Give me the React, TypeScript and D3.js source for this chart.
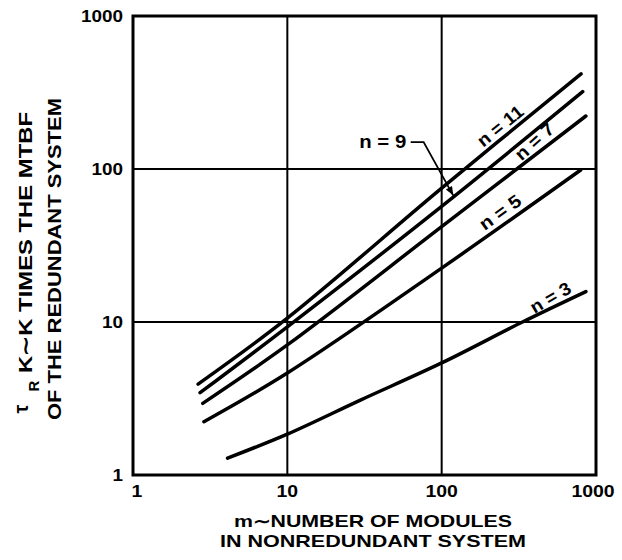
import React from "react";
import * as d3 from "d3";

// ---- data ----
const xTicks = [1, 10, 100, 1000];
const yTicks = [1, 10, 100, 1000];
const xTickLabels = ["1", "10", "100", "1000"];
const yTickLabels = ["1", "10", "100", "1000"];

const mN11 = [2.64, 10, 100, 800];
const vN11 = [3.93, 10.6, 75, 418];
const mN9 = [2.72, 10, 100, 820];
const vN9 = [3.45, 9.3, 57, 320];
const mN7 = [2.83, 10, 100, 860];
const vN7 = [2.94, 7.08, 42, 222];
const mN5 = [2.88, 10, 100, 796];
const vN5 = [2.23, 4.64, 22.5, 98.5];
const mN3 = [4.1, 10, 30, 100, 334, 860];
const vN3 = [1.29, 1.85, 3.1, 5.4, 10, 15.8];

const seriesNames = ["n = 11", "n = 9", "n = 7", "n = 5", "n = 3"];

// label anchor positions in data space (m, value), rotation, length
const labelM = [240, 0, 400, 240, 508];
const labelV = [191, 0, 151, 52, 14.4];
const labelRot = [-39, 0, -42, -36, -30];
const labelLen = [54, 47, 46, 47, 44];

// n = 9 leader annotation (data space)
const n9LabelM = 41.5;
const n9LabelV = 150;
const n9LeaderM = [63, 76.4, 119];
const n9LeaderV = [150, 150, 67];

export default function App() {
  const W = 622;
  const H = 560;
  const x = d3.scaleLog().domain([1, 1000]).range([133, 596]);
  const y = d3.scaleLog().domain([1, 1000]).range([475, 16]);

  const series = [
    [mN11, vN11],
    [mN9, vN9],
    [mN7, vN7],
    [mN5, vN5],
    [mN3, vN3],
  ];

  const line = d3
    .line<[number, number]>()
    .x((d) => x(d[0]))
    .y((d) => y(d[1]))
    .curve(d3.curveCatmullRom.alpha(0.5));

  const font = "'Liberation Sans', Arial, Helvetica, sans-serif";

  const leader = d3
    .line<[number, number]>()
    .x((d) => x(d[0]))
    .y((d) => y(d[1]));
  const leaderPts: [number, number][] = n9LeaderM.map((m, i) => [m, n9LeaderV[i]]);
  const tip = [x(n9LeaderM[2]), y(n9LeaderV[2])];
  const prev = [x(n9LeaderM[1]), y(n9LeaderV[1])];
  const ang = Math.atan2(tip[1] - prev[1], tip[0] - prev[0]);
  const ah = 9;
  const aw = 3.5;
  const arrow = [
    [tip[0], tip[1]],
    [tip[0] - ah * Math.cos(ang) + aw * Math.sin(ang), tip[1] - ah * Math.sin(ang) - aw * Math.cos(ang)],
    [tip[0] - ah * Math.cos(ang) - aw * Math.sin(ang), tip[1] - ah * Math.sin(ang) + aw * Math.cos(ang)],
  ];

  return (
    <svg
      width={W}
      height={H}
      style={{ position: "absolute", left: 0, top: 0, background: "#fff" }}
      fontFamily={font}
      fontWeight="bold"
    >
      {/* grid lines */}
      {xTicks.slice(1, -1).map((t) => (
        <line key={"gx" + t} x1={x(t)} x2={x(t)} y1={y(1)} y2={y(1000)} stroke="#000" strokeWidth={2} />
      ))}
      {yTicks.slice(1, -1).map((t) => (
        <line key={"gy" + t} x1={x(1)} x2={x(1000)} y1={y(t)} y2={y(t)} stroke="#000" strokeWidth={2} />
      ))}
      {/* frame */}
      <rect
        x={x(1)}
        y={y(1000)}
        width={x(1000) - x(1)}
        height={y(1) - y(1000)}
        fill="none"
        stroke="#000"
        strokeWidth={3}
      />

      {/* curves */}
      {series.map(([ms, vs], i) => (
        <path
          key={"s" + i}
          d={line(ms.map((m, j) => [m, vs[j]]) as [number, number][]) || ""}
          fill="none"
          stroke="#000"
          strokeWidth={3.5}
          strokeLinecap="round"
        />
      ))}

      {/* rotated curve labels */}
      {seriesNames.map((name, i) =>
        i === 1 ? null : (
          <text
            key={"l" + i}
            transform={`translate(${x(labelM[i])},${y(labelV[i])}) rotate(${labelRot[i]})`}
            textAnchor="middle"
            dominantBaseline="central"
            fontSize={18}
            textLength={labelLen[i]}
            lengthAdjust="spacingAndGlyphs"
          >
            {name}
          </text>
        )
      )}

      {/* n = 9 label with leader arrow */}
      <text
        x={x(n9LabelM)}
        y={y(n9LabelV)}
        textAnchor="middle"
        dominantBaseline="central"
        fontSize={18}
        textLength={labelLen[1]}
        lengthAdjust="spacingAndGlyphs"
      >
        {seriesNames[1]}
      </text>
      <path d={leader(leaderPts) || ""} fill="none" stroke="#000" strokeWidth={1.8} />
      <polygon points={arrow.map((p) => p.join(",")).join(" ")} fill="#000" />

      {/* x tick labels */}
      {xTicks.map((t, i) => (
        <text
          key={"xt" + t}
          x={x(t) + (i === 0 ? 4 : i === 3 ? -3 : 0)}
          y={497}
          textAnchor="middle"
          fontSize={16}
          textLength={xTickLabels[i].length * 10.8}
          lengthAdjust="spacingAndGlyphs"
        >
          {xTickLabels[i]}
        </text>
      ))}
      {/* y tick labels */}
      {yTicks.map((t, i) => (
        <text
          key={"yt" + t}
          x={123}
          y={y(t)}
          textAnchor="end"
          dominantBaseline="central"
          fontSize={16}
          textLength={yTickLabels[i].length * 10.5}
          lengthAdjust="spacingAndGlyphs"
        >
          {yTickLabels[i]}
        </text>
      ))}

      {/* x axis title */}
      <text x={373} y={527} textAnchor="middle" fontSize={17} textLength={278} lengthAdjust="spacingAndGlyphs">
        m∼NUMBER OF MODULES
      </text>
      <text x={373} y={547} textAnchor="middle" fontSize={17} textLength={306} lengthAdjust="spacingAndGlyphs">
        IN NONREDUNDANT SYSTEM
      </text>

      {/* y axis title */}
      <text
        transform="translate(25,242.5) rotate(-90)"
        textAnchor="middle"
        dominantBaseline="central"
        fontSize={19}
        textLength={261}
        lengthAdjust="spacingAndGlyphs"
      >
        K∼K TIMES THE MTBF
      </text>
      <text transform="translate(21,409) rotate(-90)" textAnchor="middle" dominantBaseline="central" fontSize={20}>
        τ
      </text>
      <text transform="translate(33,386) rotate(-90)" textAnchor="middle" dominantBaseline="central" fontSize={15}>
        R
      </text>
      <text
        transform="translate(54,259) rotate(-90)"
        textAnchor="middle"
        dominantBaseline="central"
        fontSize={19}
        textLength={322}
        lengthAdjust="spacingAndGlyphs"
      >
        OF THE REDUNDANT SYSTEM
      </text>
    </svg>
  );
}
